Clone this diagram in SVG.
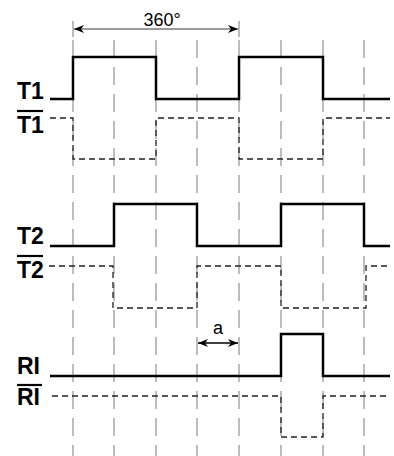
<svg xmlns="http://www.w3.org/2000/svg" width="394" height="456" viewBox="0 0 394 456">
<style>
.grid{stroke:#7a7a7a;stroke-width:1;stroke-dasharray:18 9;fill:none}
.tick{stroke:#7a7a7a;stroke-width:1;fill:none}
.sig{stroke:#000;stroke-width:2.5;fill:none;stroke-linejoin:miter}
.inv{stroke:#222;stroke-width:1.3;stroke-dasharray:6 4;fill:none}
.lbl{font-family:"Liberation Sans",Arial,sans-serif;font-weight:bold;font-size:23px;fill:#000}
.ann{font-family:"Liberation Sans",Arial,sans-serif;font-size:18px;fill:#000}
.bar{stroke:#000;stroke-width:2.2}
</style>
<defs>
<marker id="ah" viewBox="0 0 10 10" refX="10" refY="5" markerWidth="10" markerHeight="10" markerUnits="userSpaceOnUse" orient="auto-start-reverse">
<path d="M0,1 L10,5 L0,9 L3,5 Z" fill="#000"/>
</marker>
</defs>
<g id="grid">
<path class="grid" d="M73,40V456 M114,40V456 M156,40V456 M197,40V456 M239,40V456 M281,40V456 M323,40V456 M364,40V456"/>
<path class="tick" d="M73,21V37 M239,21V37"/>
</g>
<g id="connectors">
<line x1="74" y1="29" x2="238" y2="29" stroke="#7a7a7a" stroke-width="1.3" marker-start="url(#ah)" marker-end="url(#ah)"/>
<line x1="198" y1="343" x2="238" y2="343" stroke="#000" stroke-width="1.3" marker-start="url(#ah)" marker-end="url(#ah)"/>
</g>
<g id="label-360"><text class="ann" x="162" y="26" text-anchor="middle">360°</text></g>
<g id="label-a"><text class="ann" x="218" y="334" text-anchor="middle">a</text></g>
<g id="T1">
<text class="lbl" x="17" y="99">T1</text>
<path class="sig" d="M50,99H73V57H156V99H239V57H323V99H390"/>
</g>
<g id="T1bar">
<line class="bar" x1="17" y1="111" x2="43" y2="111"/>
<text class="lbl" x="17" y="133">T1</text>
<path class="inv" d="M50,118H73V159H156V118H239V159H323V118H390"/>
</g>
<g id="T2">
<text class="lbl" x="17" y="244">T2</text>
<path class="sig" d="M50,246H114V204H197V246H281V204H364V246H390"/>
</g>
<g id="T2bar">
<line class="bar" x1="17" y1="256" x2="43" y2="256"/>
<text class="lbl" x="17" y="278">T2</text>
<path class="inv" d="M49,266H113V308H197V266H281V308H366V266H390"/>
</g>
<g id="RI">
<text class="lbl" x="17" y="374">RI</text>
<path class="sig" d="M50,376H281V334H323V376H390"/>
</g>
<g id="RIbar">
<line class="bar" x1="17" y1="385" x2="42" y2="385"/>
<text class="lbl" x="17" y="405">RI</text>
<path class="inv" d="M52,396H281V437H323V396H390"/>
</g>
</svg>
